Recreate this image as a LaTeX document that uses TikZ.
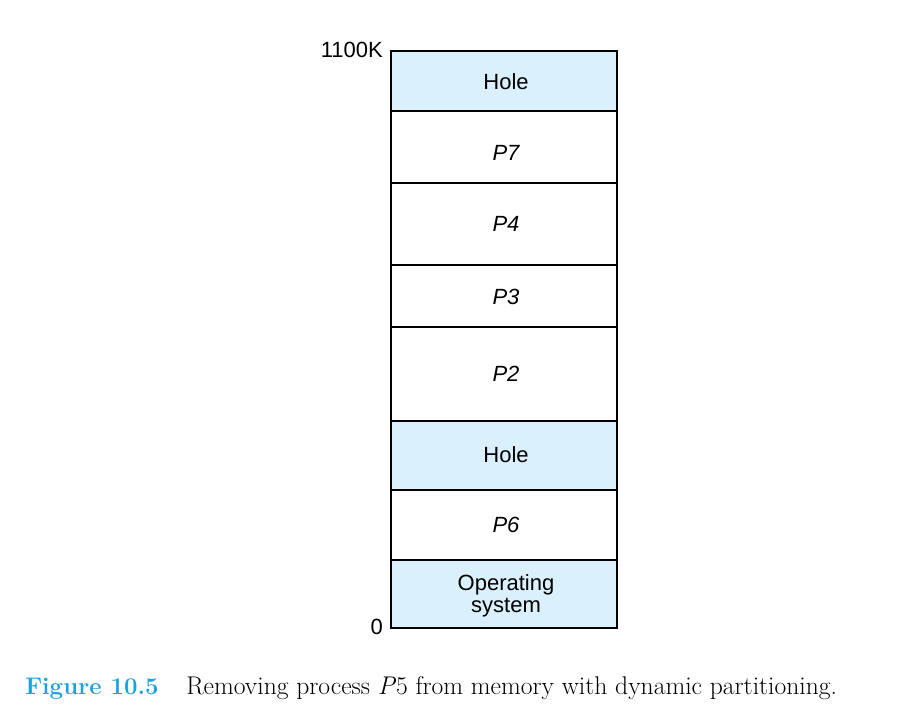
\documentclass[tikz,border=0pt]{standalone}
\usepackage{fontspec}
\setmainfont{Latin Modern Roman}
\newfontfamily\labelfont{Liberation Sans}
\usetikzlibrary{positioning}
\definecolor{holeblue}{HTML}{DAF0FC}
\definecolor{figblue}{HTML}{1BA1DC}
\tikzset{
  part/.style={draw=black, line width=1pt},
  hole/.style={part, fill=holeblue},
  partlabel/.style={font=\labelfont\fontsize{16.5}{16.5}\selectfont, align=center},
  addrlabel/.style={font=\labelfont\fontsize{16.5}{17}\selectfont, anchor=east, inner sep=0pt}
}
\begin{document}
\begin{tikzpicture}[x=0.75pt, y=-0.75pt]
    % page frame, as in the reference
    \useasboundingbox (0,0) rectangle (898,724);

    % memory column, bottom to top (left 391, right 617)
    \filldraw[hole] (391,560) rectangle (617,628);
    \draw[part] (391,490) rectangle (617,560);
    \filldraw[hole] (391,421) rectangle (617,490);
    \draw[part] (391,327) rectangle (617,421);
    \draw[part] (391,265) rectangle (617,327);
    \draw[part] (391,183) rectangle (617,265);
    \draw[part] (391,111) rectangle (617,183);
    \filldraw[hole] (391,51) rectangle (617,111);

    % partition labels
    \node[partlabel] (os) at (506,596) {Operating\\system};
    \node[partlabel] (p6) at (506,525) {\itshape P6};
    \node[partlabel] (hole2) at (506,455) {Hole};
    \node[partlabel] (p2) at (506,374) {\itshape P2};
    \node[partlabel] (p3) at (506,297) {\itshape P3};
    \node[partlabel] (p4) at (506,224) {\itshape P4};
    \node[partlabel] (p7) at (506,153) {\itshape P7};
    \node[partlabel] (hole1) at (506,82) {Hole};

    % addresses
    \node[addrlabel] (top) at (383,50) {1100K};
    \node[addrlabel] (bottom) at (383,627) {0};

    % caption
    \node[anchor=base west, inner sep=0pt, font=\fontsize{18}{20}\selectfont\bfseries, text=figblue] (fig) at (25,694) {Figure 10.5};
    \node[anchor=base west, inner sep=0pt, font=\fontsize{19.2}{22}\selectfont] (cap) at (186,694) {Removing process \textit{P}5 from memory with dynamic partitioning.};
\end{tikzpicture}
\end{document}
